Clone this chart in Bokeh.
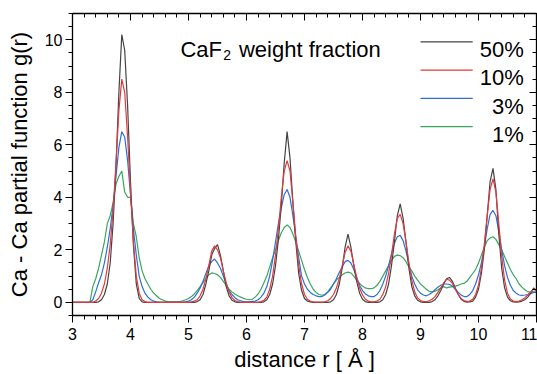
import numpy as np
from bokeh.plotting import figure
from bokeh.models import FixedTicker, LinearAxis, Label, Range1d
from bokeh.embed import file_html
from bokeh.resources import INLINE

# sampling grid of distance r (Angstrom), 3.00 .. 11.00 step 0.05
r = np.round(np.arange(161) * 0.05 + 3.0, 2)

# Ca-Ca partial g(r), one value per grid point
g_50 = [
    0, 0, 0, 0, 0, 0, 0, 0, 0, 0.02,
    0.1, 0.3, 0.7, 1.5, 3.0, 5.2, 8.0, 10.2, 9.6, 7.5,
    4.6, 2.2, 0.7, 0.15, 0.02, 0, 0, 0, 0, 0,
    0, 0, 0, 0, 0, 0, 0, 0, 0, 0,
    0, 0, 0, 0.03, 0.1, 0.3, 0.7, 1.2, 1.8, 2.05,
    2.2, 1.8, 1.2, 0.6, 0.25, 0.08, 0.02, 0, 0, 0,
    0, 0, 0, 0, 0, 0, 0.02, 0.1, 0.3, 0.7,
    1.4, 2.4, 3.7, 5.3, 6.5, 5.5, 3.8, 2.3, 1.1, 0.45,
    0.15, 0.05, 0.02, 0, 0, 0, 0, 0, 0, 0.02,
    0.1, 0.3, 0.7, 1.3, 2.1, 2.6, 2.1, 1.4, 0.8, 0.35,
    0.12, 0.03, 0, 0, 0, 0, 0.02, 0.1, 0.3, 0.7,
    1.4, 2.3, 3.3, 3.75, 3.2, 2.3, 1.3, 0.6, 0.25, 0.08,
    0.02, 0, 0, 0, 0.03, 0.1, 0.25, 0.45, 0.7, 0.9,
    0.95, 0.8, 0.55, 0.3, 0.12, 0.04, 0.01, 0.02, 0.05, 0.2,
    0.5, 1.1, 2.0, 3.3, 4.6, 5.1, 4.3, 2.6, 1.3, 0.55,
    0.2, 0.06, 0.02, 0.01, 0.02, 0.05, 0.1, 0.2, 0.35, 0.55,
    0.45,
]
g_10 = [
    0, 0, 0, 0, 0, 0, 0, 0, 0.05, 0.15,
    0.35, 0.7, 1.3, 2.2, 3.5, 5.3, 7.3, 8.5, 8.0, 6.3,
    4.2, 2.3, 1.0, 0.35, 0.1, 0.03, 0, 0, 0, 0,
    0, 0, 0, 0, 0, 0, 0, 0, 0, 0,
    0, 0.02, 0.05, 0.1, 0.25, 0.5, 0.9, 1.4, 1.95, 2.15,
    2.0, 1.7, 1.2, 0.75, 0.4, 0.18, 0.07, 0.03, 0, 0,
    0, 0, 0, 0, 0, 0.03, 0.08, 0.2, 0.5, 1.0,
    1.8, 2.8, 4.0, 5.0, 5.4, 5.0, 3.8, 2.5, 1.4, 0.7,
    0.3, 0.12, 0.05, 0.02, 0.01, 0.01, 0.01, 0.02, 0.06, 0.15,
    0.3, 0.55, 0.9, 1.4, 1.9, 2.15, 1.95, 1.45, 0.95, 0.55,
    0.28, 0.12, 0.05, 0.02, 0.02, 0.05, 0.12, 0.3, 0.6, 1.1,
    1.8, 2.6, 3.2, 3.35, 3.0, 2.3, 1.5, 0.85, 0.4, 0.17,
    0.07, 0.03, 0.03, 0.06, 0.12, 0.22, 0.38, 0.55, 0.75, 0.88,
    0.85, 0.72, 0.5, 0.3, 0.15, 0.07, 0.04, 0.05, 0.12, 0.3,
    0.65, 1.3, 2.2, 3.3, 4.3, 4.7, 4.2, 3.0, 1.75, 0.85,
    0.35, 0.13, 0.05, 0.03, 0.05, 0.1, 0.18, 0.28, 0.4, 0.5,
    0.45,
]
g_3 = [
    0, 0, 0, 0, 0, 0, 0, 0.1, 0.4, 0.75,
    1.05, 1.5, 2.1, 2.8, 3.7, 4.8, 5.9, 6.5, 6.3, 5.4,
    4.1, 2.8, 1.8, 1.0, 0.6, 0.35, 0.2, 0.1, 0.05, 0.02,
    0, 0, 0, 0, 0, 0, 0, 0, 0, 0.02,
    0.05, 0.1, 0.2, 0.35, 0.55, 0.8, 1.1, 1.4, 1.55, 1.65,
    1.5, 1.3, 1.0, 0.7, 0.45, 0.3, 0.18, 0.1, 0.06, 0.03,
    0.02, 0.02, 0.04, 0.05, 0.1, 0.2, 0.35, 0.6, 1.0, 1.6,
    2.3, 3.0, 3.6, 4.1, 4.3, 4.0, 3.3, 2.5, 1.7, 1.0,
    0.7, 0.5, 0.38, 0.3, 0.25, 0.22, 0.22, 0.28, 0.38, 0.5,
    0.7, 0.9, 1.15, 1.35, 1.55, 1.6, 1.5, 1.25, 0.95, 0.65,
    0.45, 0.32, 0.25, 0.22, 0.22, 0.3, 0.45, 0.7, 1.0, 1.4,
    1.85, 2.25, 2.5, 2.55, 2.35, 1.95, 1.45, 1.0, 0.7, 0.48,
    0.35, 0.28, 0.25, 0.3, 0.38, 0.48, 0.58, 0.65, 0.7, 0.7,
    0.68, 0.62, 0.5, 0.38, 0.28, 0.22, 0.22, 0.3, 0.45, 0.7,
    1.05, 1.5, 2.1, 2.8, 3.35, 3.5, 3.3, 2.7, 2.0, 1.4,
    0.95, 0.65, 0.45, 0.35, 0.28, 0.27, 0.28, 0.3, 0.33, 0.38,
    0.38,
]
g_1 = [
    0, 0, 0, 0, 0, 0, 0, 0.6, 0.9, 1.3,
    1.8, 2.3, 3.0, 3.3, 3.8, 4.5, 4.8, 5.0, 4.2, 4.0,
    4.0, 3.0, 2.5, 1.7, 1.2, 0.9, 0.7, 0.5, 0.35, 0.25,
    0.15, 0.1, 0.05, 0.03, 0.02, 0.02, 0.02, 0.03, 0.06, 0.1,
    0.15, 0.22, 0.32, 0.45, 0.6, 0.75, 0.92, 1.05, 1.12, 1.1,
    1.05, 0.95, 0.8, 0.65, 0.5, 0.4, 0.32, 0.25, 0.2, 0.15,
    0.12, 0.1, 0.12, 0.2, 0.32, 0.5, 0.75, 1.0, 1.35, 1.7,
    2.0, 2.35, 2.65, 2.85, 2.95, 2.85, 2.6, 2.3, 1.95, 1.6,
    1.25, 0.95, 0.7, 0.5, 0.38, 0.3, 0.27, 0.3, 0.4, 0.55,
    0.7, 0.85, 0.95, 1.05, 1.12, 1.15, 1.12, 1.0, 0.85, 0.72,
    0.62, 0.55, 0.52, 0.52, 0.55, 0.65, 0.8, 1.0, 1.2, 1.4,
    1.6, 1.75, 1.8, 1.78, 1.7, 1.55, 1.35, 1.2, 1.0, 0.85,
    0.7, 0.6, 0.5, 0.42, 0.4, 0.42, 0.48, 0.55, 0.6, 0.55,
    0.58, 0.6, 0.62, 0.65, 0.7, 0.72, 0.8, 0.95, 1.1, 1.25,
    1.5, 1.8, 2.1, 2.35, 2.45, 2.5, 2.4, 2.2, 2.0, 1.75,
    1.5, 1.25, 1.05, 0.9, 0.7, 0.58, 0.48, 0.4, 0.4, 0.4,
    0.4,
]

series_labels = ["50%", "10%", "3%", "1%"]
series_values = [g_50, g_10, g_3, g_1]
series_colors = ["#444444", "#e03a3e", "#2d6fd8", "#3aa65e"]

x_major = [3, 4, 5, 6, 7, 8, 9, 10, 11]
y_major = [0, 2, 4, 6, 8, 10]

FONT = "Liberation Sans"

p = figure(width=537, height=374, x_range=Range1d(3, 11), y_range=Range1d(-0.5, 11),
           output_backend="svg", toolbar_location=None,
           min_border_left=72, min_border_right=1, min_border_top=13, min_border_bottom=59,
           x_axis_label="distance r [ Å ]", y_axis_label="Ca - Ca partial function g(r)")
p.grid.visible = False
p.outline_line_color = None
p.background_fill_color = "white"
p.border_fill_color = "white"

xt = FixedTicker(ticks=x_major, minor_ticks=list(np.round(np.arange(3, 11.001, 0.2), 2)))
yt = FixedTicker(ticks=y_major, minor_ticks=list(np.round(np.arange(-0.5, 11.001, 0.5), 2)))


def style(ax, ticker, inner=False):
    ax.ticker = ticker
    ax.axis_line_color = "black"
    ax.axis_line_width = 1.3
    ax.major_tick_line_color = "black"
    ax.minor_tick_line_color = "black"
    ax.major_tick_line_width = 1
    ax.minor_tick_line_width = 1
    if inner:
        ax.major_tick_in = 7
        ax.major_tick_out = 0
        ax.minor_tick_in = 4
        ax.minor_tick_out = 0
        ax.major_label_text_font_size = "0px"
        ax.major_label_standoff = 0
        ax.major_label_text_color = None
    else:
        ax.major_tick_in = 0
        ax.major_tick_out = 7
        ax.minor_tick_in = 0
        ax.minor_tick_out = 4
        ax.major_label_text_font = FONT
        ax.major_label_text_font_size = "16px"
        ax.major_label_text_color = "black"
        ax.axis_label_text_font = FONT
        ax.axis_label_text_font_size = "22px"
        ax.axis_label_text_font_style = "normal"
        ax.axis_label_text_color = "black"


style(p.xaxis[0], xt)
style(p.yaxis[0], yt)
p.xaxis[0].major_label_standoff = 5
p.xaxis[0].axis_label_standoff = 4
p.yaxis[0].major_label_standoff = 3
p.yaxis[0].axis_label_standoff = 10

top = LinearAxis()
style(top, xt, inner=True)
p.add_layout(top, "above")
right = LinearAxis()
style(right, yt, inner=True)
p.add_layout(right, "right")

# curves (draw order: 1%, 3%, 50%, 10%)
for idx in [3, 2, 0, 1]:
    p.line(r, series_values[idx], line_color=series_colors[idx], line_width=1.2)

# title text inside plot
p.add_layout(Label(x=4.86, y=9.64, text="CaF", text_font=FONT, text_font_size="22px",
                   text_color="black", text_baseline="alphabetic"))
p.add_layout(Label(x=5.6, y=9.43, text="2", text_font=FONT, text_font_size="14px",
                   text_color="black", text_baseline="alphabetic"))
p.add_layout(Label(x=5.87, y=9.64, text="weight fraction", text_font=FONT, text_font_size="22px",
                   text_color="black", text_baseline="alphabetic"))

# legend (manual: line then right-aligned label)
leg_x0, leg_x1, leg_tx = 9.0, 9.9, 10.78
leg_y0, leg_dy, leg_toff = 9.92, 1.075, -0.3
for i, (lab, col) in enumerate(zip(series_labels, series_colors)):
    yy = leg_y0 - i * leg_dy
    p.line([leg_x0, leg_x1], [yy, yy], line_color=col, line_width=1.2)
    p.add_layout(Label(x=leg_tx, y=yy + leg_toff, text=lab, text_font=FONT, text_font_size="22px",
                       text_color="black", text_align="right", text_baseline="alphabetic"))

open("out.html", "w").write(file_html(p, INLINE))
